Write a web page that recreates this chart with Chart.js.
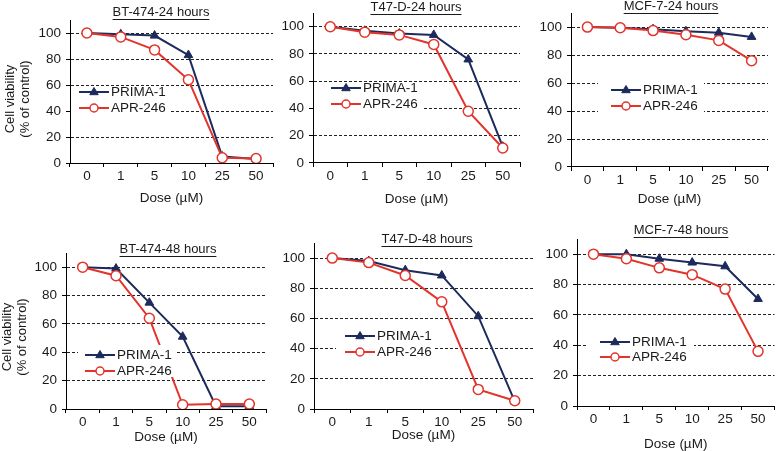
<!DOCTYPE html>
<html><head><meta charset="utf-8">
<script src="https://cdn.jsdelivr.net/npm/chart.js@4.4.1/dist/chart.umd.min.js"></script>
<style>
html,body{margin:0;padding:0;background:#fff;}
#wrap{position:relative;width:781px;height:451px;overflow:hidden;background:#fff;}
canvas{position:absolute;left:0;top:0;}
</style></head><body><div id="wrap"></div>
<script>
// ---- data ----
const doses = ['0', '1', '5', '10', '25', '50'];
const seriesNames = ['PRIMA-1', 'APR-246'];
const panelTitles = ['BT-474-24 hours', 'T47-D-24 hours', 'MCF-7-24 hours', 'BT-474-48 hours', 'T47-D-48 hours', 'MCF-7-48 hours'];
const yTicks = [0, 20, 40, 60, 80, 100];

const bt474_24_prima = [100, 99, 98, 83, 5, 3];
const bt474_24_apr   = [100, 97, 87, 64, 4, 3.5];
const t47d_24_prima  = [100, 97, 95, 94, 76, 12];
const t47d_24_apr    = [100, 96, 94, 87, 38, 11];
const mcf7_24_prima  = [100, 99.5, 98.5, 97, 96, 93];
const mcf7_24_apr    = [100, 99.5, 97.5, 94.5, 90.5, 76];
const bt474_48_prima = [100, 99, 75, 51, 2, 2];
const bt474_48_apr   = [100, 94, 64, 3, 3.5, 3.5];
const t47d_48_prima  = [100, 98, 92, 88.5, 61.5, 5];
const t47d_48_apr    = [100, 97, 88.5, 71, 13, 5.5];
const mcf7_48_prima  = [100, 100, 97, 94.5, 92, 70.5];
const mcf7_48_apr    = [100, 97, 91, 86.5, 77, 36];

const xTitle = 'Dose (\u00b5M)';
const yTitleLines = ['Cell viability', '(% of control)'];

// ---- styling / layout ----
const NAVY = '#1c2a5c';
const RED = '#e3342b';
const TXT = '#1a1a1a';
const FONT = "'Liberation Sans', Arial, Helvetica, sans-serif";
const FS = 13.5;
Chart.defaults.font.family = FONT;
Chart.defaults.color = TXT;

const panels = [
  {title: panelTitles[0], prima: bt474_24_prima, apr: bt474_24_apr,
   geo: {left: 70, right: 273, top: 20, bottom: 163, doseY: 198}, t: {x: 161, y: 12},
   yt: {x: 10, y: 99}, lg: {x: 79, y1: 92, y2: 108, box: [71, 87, 170, 115]}},
  {title: panelTitles[1], prima: t47d_24_prima, apr: t47d_24_apr,
   geo: {left: 313, right: 520, top: 10, bottom: 163, doseY: 199}, t: {x: 416, y: 7},
   yt: null, lg: {x: 331, y1: 88, y2: 104, box: [314, 82, 424, 111]}},
  {title: panelTitles[2], prima: mcf7_24_prima, apr: mcf7_24_apr,
   geo: {left: 571, right: 768, top: 12, bottom: 167, doseY: 199}, t: {x: 671, y: 6},
   yt: null, lg: {x: 611, y1: 90, y2: 106, box: [598, 80, 704, 112]}},
  {title: panelTitles[3], prima: bt474_48_prima, apr: bt474_48_apr,
   geo: {left: 66, right: 266, top: 253, bottom: 409, doseY: 437}, t: {x: 168, y: 249},
   yt: {x: 7, y: 337}, lg: {x: 85, y1: 355, y2: 371, box: [78, 345, 175, 377]}},
  {title: panelTitles[4], prima: t47d_48_prima, apr: t47d_48_apr,
   geo: {left: 314, right: 533, top: 243, bottom: 409, doseY: 435}, t: {x: 427, y: 239},
   yt: null, lg: {x: 345, y1: 336, y2: 352, box: [336, 327, 434, 358]}},
  {title: panelTitles[5], prima: mcf7_48_prima, apr: mcf7_48_apr,
   geo: {left: 577, right: 777, top: 239, bottom: 406, doseY: 444}, t: {x: 681, y: 230},
   yt: null, lg: {x: 600, y1: 342, y2: 357, box: [588, 333, 694, 362]}},
];

const W = 781, H = 451, YW = 40, LH = FS * 1.2;

function drawMarker(ctx, kind, x, y) {
  ctx.save();
  if (kind === 'tri') {
    const r = 4.5;
    ctx.fillStyle = NAVY; ctx.strokeStyle = NAVY; ctx.lineWidth = 1;
    ctx.beginPath();
    ctx.moveTo(x, y - r);
    ctx.lineTo(x + r * 0.95, y + r * 0.6);
    ctx.lineTo(x - r * 0.95, y + r * 0.6);
    ctx.closePath(); ctx.fill(); ctx.stroke();
  } else {
    ctx.fillStyle = '#fff'; ctx.strokeStyle = RED; ctx.lineWidth = 1.5;
    ctx.beginPath(); ctx.arc(x, y, 4, 0, Math.PI * 2); ctx.fill(); ctx.stroke();
  }
  ctx.restore();
}

const decor = {
  id: 'decor',
  afterDatasetsDraw(chart, args, opts) {
    const p = opts.p; const ctx = chart.ctx; const lg = p.lg;
    ctx.save();
    const b = lg.box;
    ctx.fillStyle = '#fff';
    ctx.fillRect(b[0], b[1], b[2] - b[0], b[3] - b[1]);
    const rows = [{y: lg.y1, c: NAVY, k: 'tri', t: seriesNames[0]}, {y: lg.y2, c: RED, k: 'circ', t: seriesNames[1]}];
    rows.forEach(r => {
      ctx.strokeStyle = r.c; ctx.lineWidth = 2;
      ctx.beginPath(); ctx.moveTo(lg.x, r.y); ctx.lineTo(lg.x + 30, r.y); ctx.stroke();
      drawMarker(ctx, r.k, lg.x + 15, r.y);
      ctx.fillStyle = TXT; ctx.font = FS + 'px ' + FONT;
      ctx.textAlign = 'left'; ctx.textBaseline = 'middle';
      ctx.fillText(r.t, lg.x + 32, r.y + 0.5);
    });
    ctx.restore();
  },
  afterDraw(chart, args, opts) {
    const p = opts.p; const ctx = chart.ctx;
    ctx.save();
    ctx.fillStyle = TXT; ctx.strokeStyle = TXT;
    ctx.font = '13px ' + FONT;
    ctx.textAlign = 'center'; ctx.textBaseline = 'middle';
    ctx.fillText(p.title, p.t.x, p.t.y);
    const w = ctx.measureText(p.title).width;
    ctx.lineWidth = 1;
    ctx.beginPath(); ctx.moveTo(p.t.x - w / 2, Math.round(p.t.y + 7) + 0.5); ctx.lineTo(p.t.x + w / 2, Math.round(p.t.y + 7) + 0.5); ctx.stroke();
    if (p.yt) {
      ctx.translate(p.yt.x, p.yt.y);
      ctx.rotate(-Math.PI / 2);
      ctx.fillText(yTitleLines[0], 0, 0);
      ctx.fillText(yTitleLines[1], 0, 15.5);
    }
    ctx.restore();
  }
};

const wrap = document.getElementById('wrap');
panels.forEach((p, i) => {
  const cv = document.createElement('canvas');
  cv.width = W; cv.height = H;
  cv.style.width = W + 'px'; cv.style.height = H + 'px';
  wrap.appendChild(cv);
  const g = p.geo;
  const scaleBottom = g.doseY + LH / 2;
  const xh = scaleBottom - g.bottom;
  new Chart(cv.getContext('2d'), {
    type: 'line',
    data: {
      labels: doses,
      datasets: [
        {label: seriesNames[0], data: p.prima, borderColor: NAVY, backgroundColor: NAVY,
         borderWidth: 2, pointStyle: 'triangle', pointRadius: 5, pointBorderWidth: 1,
         pointBackgroundColor: NAVY, pointBorderColor: NAVY, tension: 0, order: 2},
        {label: seriesNames[1], data: p.apr, borderColor: RED, backgroundColor: '#fff',
         borderWidth: 2, pointStyle: 'circle', pointRadius: 5, pointBorderWidth: 1.5,
         pointBackgroundColor: '#fff', pointBorderColor: RED, tension: 0, order: 1}
      ]
    },
    options: {
      responsive: false, animation: false, devicePixelRatio: 1,
      layout: {padding: {left: g.left - YW, right: W - g.right, top: g.top, bottom: H - scaleBottom}},
      plugins: {legend: {display: false}, tooltip: {enabled: false}, decor: {p: p}},
      scales: {
        x: {
          type: 'category', offset: true,
          afterFit: s => { s.height = xh; },
          grid: {drawOnChartArea: false, drawTicks: true, tickLength: 4, offset: true, color: '#000', tickColor: '#000'},
          border: {display: true, color: '#000', width: 1},
          ticks: {padding: 1, font: {size: FS}, color: TXT, maxRotation: 0},
          title: {display: true, text: xTitle, font: {size: FS}, color: TXT, padding: 0}
        },
        y: {
          min: 0, max: 110,
          afterFit: s => { s.width = YW; },
          afterBuildTicks: s => { s.ticks = yTicks.map(v => ({value: v})); },
          grid: {
            drawTicks: true, tickLength: 4, tickColor: '#000', tickBorderDash: [],
            color: c => (c.tick && c.tick.value === 0) ? 'rgba(0,0,0,0)' : '#222',
            lineWidth: 1
          },
          border: {display: true, color: '#000', width: 1, dash: [3, 2]},
          ticks: {padding: 5, font: {size: FS}, color: TXT}
        }
      }
    },
    plugins: [decor]
  });
});
</script></body></html>
